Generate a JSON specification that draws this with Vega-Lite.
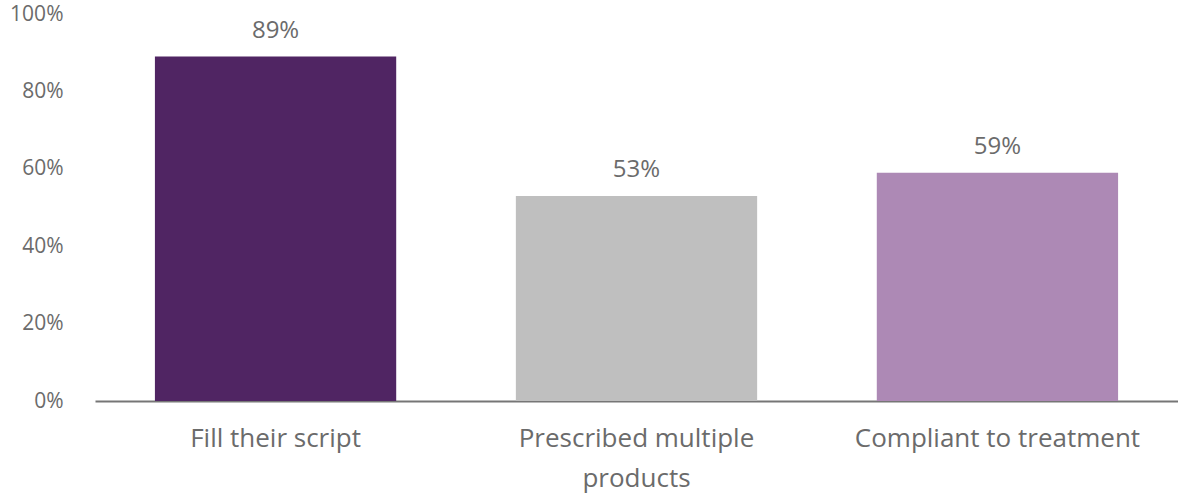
{
  "$schema": "https://vega.github.io/schema/vega-lite/v6.json",
  "width": 1083,
  "height": 387,
  "autosize": "none",
  "padding": {"left": 95, "top": 14, "right": 0, "bottom": 97},
  "background": "white",
  "config": {"view": {"stroke": null}, "font": "Open Sans"},
  "data": {"values": [
    {"category": "Fill their script", "value": 0.89, "color": "#502563"},
    {"category": "Prescribed multiple products", "value": 0.53, "color": "#BFBFBF"},
    {"category": "Compliant to treatment", "value": 0.59, "color": "#AD89B5"}
  ]},
  "encoding": {
    "x": {
      "field": "category", "type": "nominal", "sort": null,
      "scale": {"paddingInner": 0.3315, "paddingOuter": 0.166},
      "axis": {
        "title": null, "labelAngle": 0, "ticks": false, "domain": true,
        "domainColor": "#767676", "domainWidth": 2,
        "labelFontSize": 26, "labelColor": "#6b6b6b", "labelPadding": 24,
        "labelLineHeight": 40, "labelFont": "Open Sans", "labelLimit": 0,
        "labelExpr": "datum.label == 'Prescribed multiple products' ? ['Prescribed multiple', 'products'] : datum.label"
      }
    },
    "y": {
      "field": "value", "type": "quantitative",
      "scale": {"domain": [0, 1]},
      "axis": {
        "title": null, "format": ".0%", "values": [0, 0.2, 0.4, 0.6, 0.8, 1],
        "grid": false, "ticks": false, "domain": false,
        "labelFontSize": 21, "labelColor": "#6b6b6b", "labelPadding": 32,
        "labelFont": "Open Sans"
      }
    }
  },
  "layer": [
    {"mark": {"type": "bar"}, "encoding": {"color": {"field": "color", "type": "nominal", "scale": null}}},
    {"mark": {"type": "text", "dy": -19, "baseline": "alphabetic", "fontSize": 24, "color": "#6b6b6b", "font": "Open Sans"},
     "encoding": {"text": {"field": "value", "type": "quantitative", "format": ".0%"}}}
  ]
}
